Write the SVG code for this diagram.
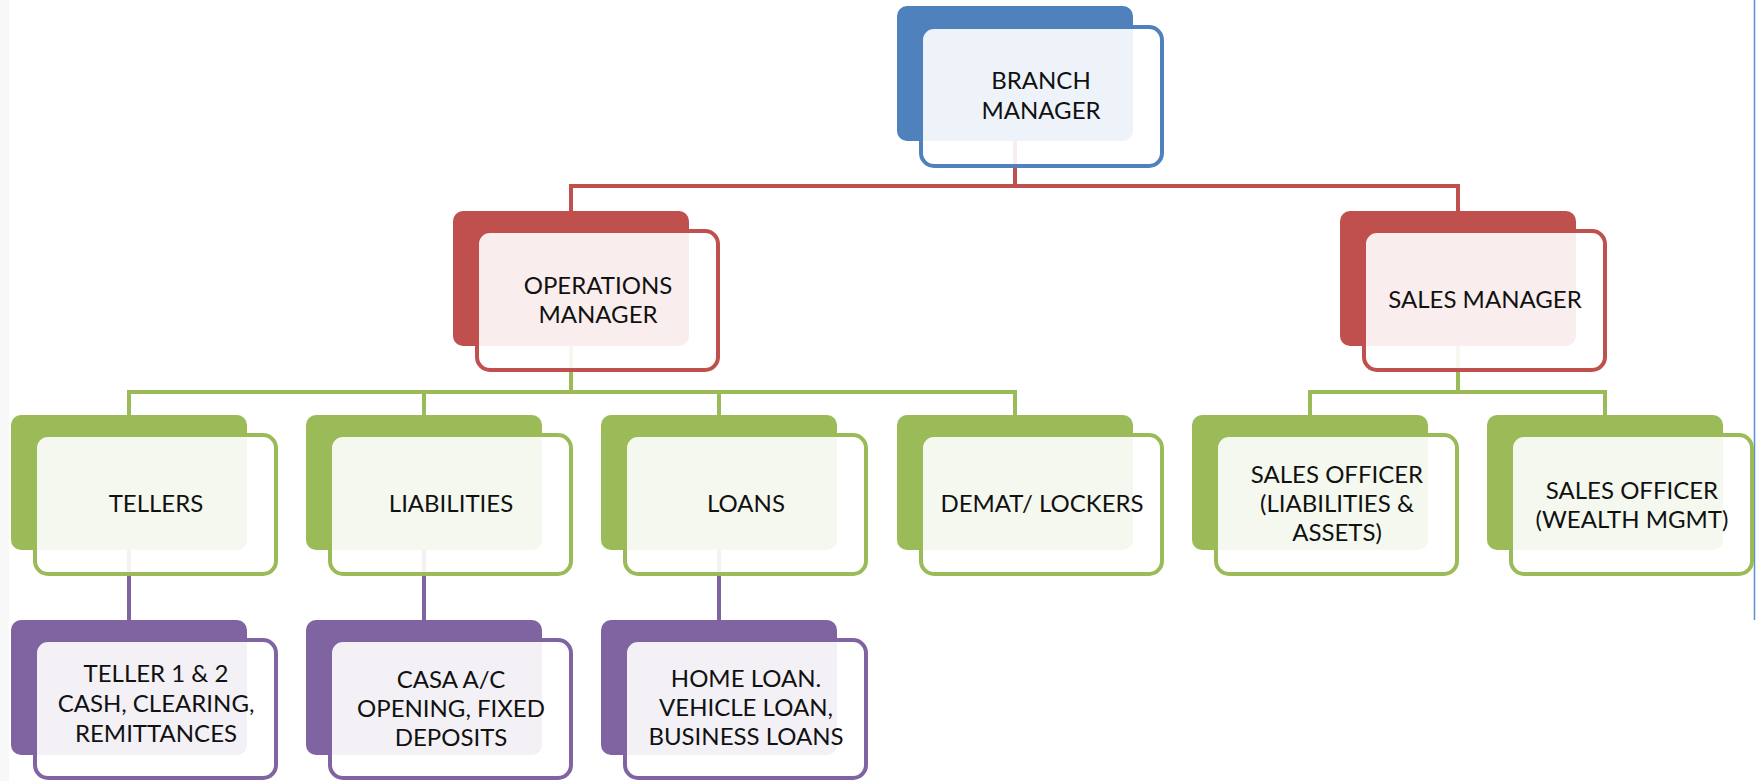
<svg xmlns="http://www.w3.org/2000/svg" width="1761" height="781" viewBox="0 0 1761 781">
<style>
  .bk{stroke:none}
  .fr{fill:#ffffff;fill-opacity:0.9;stroke-width:4}
  .blue .bk{fill:#4F81BD} .blue .fr{stroke:#4F81BD}
  .red .bk{fill:#C0504D} .red .fr{stroke:#C0504D}
  .green .bk{fill:#9BBB59} .green .fr{stroke:#9BBB59}
  .purple .bk{fill:#8064A2} .purple .fr{stroke:#8064A2}
  text{font-family:Lato,"Open Sans","Liberation Sans",sans-serif;font-size:24px;fill:#111;text-anchor:middle}
  .conn path{fill:none;stroke-width:4}
</style>
<rect x="0" y="0" width="1761" height="781" fill="#ffffff"/>
<rect x="0" y="0" width="9" height="781" fill="#F8F8F8"/>
<line x1="1754.5" y1="0" x2="1754.5" y2="620" stroke="#5B8FD8" stroke-width="1.5"/>

<g id="connectors" class="conn">
  <path stroke="#C0504D" d="M1015,140 V186 M571,211 V186 H1458 V211"/>
  <path stroke="#9BBB59" d="M571,346 V392 M129,415 V392 H1015 V415 M424,392 V415 M719,392 V415 M1458,346 V392 M1310,415 V392 H1605 V415"/>
  <path stroke="#8064A2" d="M129,548 V620 M424,548 V620 M719,548 V620"/>
</g>

<g id="branch-manager" class="blue">
  <rect class="bk" x="897" y="6" width="236" height="135" rx="10"/>
  <rect class="fr" x="921" y="27" width="241" height="139" rx="13"/>
  <text x="1041" y="89">BRANCH</text>
  <text x="1041" y="119">MANAGER</text>
</g>

<g id="operations-manager" class="red">
  <rect class="bk" x="453" y="211" width="236" height="135" rx="10"/>
  <rect class="fr" x="477" y="231" width="241" height="139" rx="13"/>
  <text x="598" y="294">OPERATIONS</text>
  <text x="598" y="323">MANAGER</text>
</g>

<g id="sales-manager" class="red">
  <rect class="bk" x="1340" y="211" width="236" height="135" rx="10"/>
  <rect class="fr" x="1364" y="231" width="241" height="139" rx="13"/>
  <text x="1485" y="308">SALES MANAGER</text>
</g>

<g id="tellers" class="green">
  <rect class="bk" x="11" y="415" width="236" height="135" rx="10"/>
  <rect class="fr" x="35" y="435" width="241" height="139" rx="13"/>
  <text x="156" y="512">TELLERS</text>
</g>

<g id="liabilities" class="green">
  <rect class="bk" x="306" y="415" width="236" height="135" rx="10"/>
  <rect class="fr" x="330" y="435" width="241" height="139" rx="13"/>
  <text x="451" y="512">LIABILITIES</text>
</g>

<g id="loans" class="green">
  <rect class="bk" x="601" y="415" width="236" height="135" rx="10"/>
  <rect class="fr" x="625" y="435" width="241" height="139" rx="13"/>
  <text x="746" y="512">LOANS</text>
</g>

<g id="demat-lockers" class="green">
  <rect class="bk" x="897" y="415" width="236" height="135" rx="10"/>
  <rect class="fr" x="921" y="435" width="241" height="139" rx="13"/>
  <text x="1042" y="512">DEMAT/ LOCKERS</text>
</g>

<g id="sales-officer-la" class="green">
  <rect class="bk" x="1192" y="415" width="236" height="135" rx="10"/>
  <rect class="fr" x="1216" y="435" width="241" height="139" rx="13"/>
  <text x="1337" y="483">SALES OFFICER</text>
  <text x="1337" y="512">(LIABILITIES &amp;</text>
  <text x="1337" y="541">ASSETS)</text>
</g>

<g id="sales-officer-wm" class="green">
  <rect class="bk" x="1487" y="415" width="236" height="135" rx="10"/>
  <rect class="fr" x="1511" y="435" width="241" height="139" rx="13"/>
  <text x="1632" y="499">SALES OFFICER</text>
  <text x="1632" y="528">(WEALTH MGMT)</text>
</g>

<g id="teller-1-2" class="purple">
  <rect class="bk" x="11" y="620" width="236" height="135" rx="10"/>
  <rect class="fr" x="35" y="640" width="241" height="138" rx="13"/>
  <text x="156" y="682">TELLER 1 &amp; 2</text>
  <text x="156" y="712">CASH, CLEARING,</text>
  <text x="156" y="742">REMITTANCES</text>
</g>

<g id="casa-fd" class="purple">
  <rect class="bk" x="306" y="620" width="236" height="135" rx="10"/>
  <rect class="fr" x="330" y="640" width="241" height="138" rx="13"/>
  <text x="451" y="688">CASA A/C</text>
  <text x="451" y="717">OPENING, FIXED</text>
  <text x="451" y="746">DEPOSITS</text>
</g>

<g id="loan-types" class="purple">
  <rect class="bk" x="601" y="620" width="236" height="135" rx="10"/>
  <rect class="fr" x="625" y="640" width="241" height="138" rx="13"/>
  <text x="746" y="687">HOME LOAN.</text>
  <text x="746" y="716">VEHICLE LOAN,</text>
  <text x="746" y="745">BUSINESS LOANS</text>
</g>
</svg>
